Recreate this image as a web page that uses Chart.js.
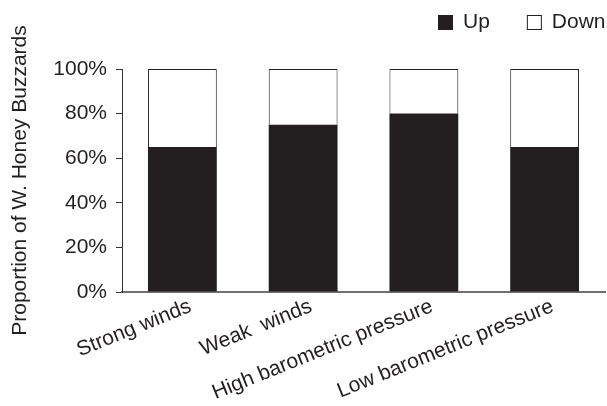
<!DOCTYPE html>
<html>
<head>
<meta charset="utf-8">
<script src="https://cdn.jsdelivr.net/npm/chart.js@4/dist/chart.umd.min.js"></script>
<style>
  html, body { margin: 0; padding: 0; background: #fff; }
  #wrap { width: 607px; height: 406px; position: relative; }
</style>
</head>
<body>
<div id="wrap"><canvas id="chart"></canvas></div>
<script>
var categories = ["Strong winds", "Weak  winds", "High barometric pressure", "Low barometric pressure"];
var upValues = [65, 75, 80, 65];
var downValues = [35, 25, 20, 35];
var yTicks = [0, 20, 40, 60, 80, 100];

var ink = "#231f20";
Chart.defaults.font.family = '"Liberation Sans", Arial, sans-serif';
Chart.defaults.color = ink;

// legend drawn top right, boxes + labels taken from the datasets
var cornerLegend = {
  id: "cornerLegend",
  afterDraw: function (chart) {
    var ctx = chart.ctx;
    var x = 438;
    ctx.save();
    ctx.font = '21px "Liberation Sans", Arial, sans-serif';
    ctx.textBaseline = "middle";
    chart.data.datasets.forEach(function (ds) {
      ctx.fillStyle = ds.backgroundColor;
      ctx.fillRect(x, 15, 15, 15);
      ctx.strokeStyle = ink;
      ctx.lineWidth = 1;
      ctx.strokeRect(x + 0.5, 15.5, 14, 14);
      ctx.fillStyle = ink;
      ctx.fillText(ds.label, x + 25, 22.5);
      x += 25 + ctx.measureText(ds.label).width + 37;
    });
    ctx.restore();
  }
};

new Chart(document.getElementById("chart"), {
  type: "bar",
  data: {
    labels: categories,
    datasets: [{
      label: "Up",
      data: upValues,
      backgroundColor: ink,
      borderWidth: 0
    }, {
      label: "Down",
      data: downValues,
      backgroundColor: "#ffffff",
      borderColor: ink,
      borderWidth: 1
    }]
  },
  options: {
    responsive: true,
    maintainAspectRatio: false,
    animation: false,
    barPercentage: 0.57,
    categoryPercentage: 1,
    layout: { padding: { top: 69, right: 2, bottom: 0, left: 0 } },
    plugins: {
      legend: { display: false },
      tooltip: { enabled: false }
    },
    scales: {
      x: {
        stacked: true,
        grid: { display: false, drawTicks: false },
        border: { display: true, color: "#707070", width: 2 },
        ticks: {
          autoSkip: false,
          maxRotation: 22,
          minRotation: 22,
          labelOffset: 8,
          padding: 2,
          font: { size: 21 },
          color: ink
        },
        afterFit: function (scale) { scale.height = 114; }
      },
      y: {
        stacked: true,
        min: 0,
        max: 100,
        afterBuildTicks: function (scale) {
          scale.ticks = yTicks.map(function (v) { return { value: v }; });
        },
        grid: {
          drawOnChartArea: false,
          drawTicks: true,
          tickLength: 6,
          color: "#333333"
        },
        border: { color: "#333333", width: 1 },
        ticks: {
          padding: 9,
          font: { size: 21 },
          color: ink,
          callback: function (v) { return v + "%"; }
        },
        title: {
          display: true,
          text: "Proportion of W. Honey Buzzards",
          font: { size: 21 },
          color: ink,
          padding: { top: 8, bottom: 0 }
        },
        afterFit: function (scale) { scale.width = 122; }
      }
    }
  },
  plugins: [cornerLegend]
});
</script>
</body>
</html>
